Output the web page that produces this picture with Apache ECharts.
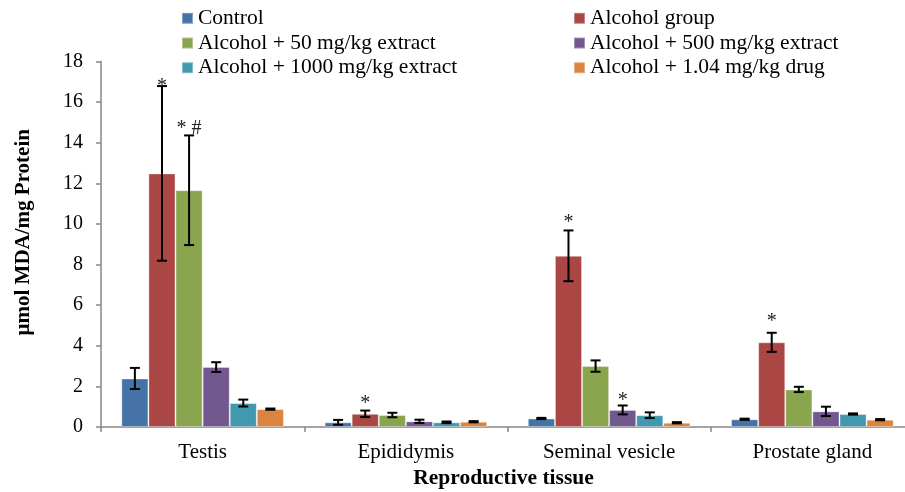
<!DOCTYPE html>
<html>
<head>
<meta charset="utf-8">
<script src="https://cdn.jsdelivr.net/npm/echarts@6/dist/echarts.min.js"></script>
<style>
html,body{margin:0;padding:0;background:#fff;}
#chart{width:905px;height:492px;}
</style>
</head>
<body>
<div id="chart"></div>
<script>
// ---- data ----
const categories = ['Testis', 'Epididymis', 'Seminal vesicle', 'Prostate gland'];
const seriesNames = ['Control', 'Alcohol group', 'Alcohol + 50 mg/kg extract', 'Alcohol + 500 mg/kg extract', 'Alcohol + 1000 mg/kg extract', 'Alcohol + 1.04 mg/kg drug'];
const control = [2.39, 0.23, 0.42, 0.38];
const alcohol = [12.49, 0.65, 8.43, 4.17];
const ext50 = [11.66, 0.59, 3.0, 1.85];
const ext500 = [2.95, 0.28, 0.84, 0.77];
const ext1000 = [1.18, 0.23, 0.58, 0.64];
const drug = [0.88, 0.26, 0.21, 0.36];
const controlErr = [0.52, 0.12, 0.03, 0.03];
const alcoholErr = [4.3, 0.16, 1.25, 0.47];
const ext50Err = [2.7, 0.11, 0.28, 0.13];
const ext500Err = [0.24, 0.08, 0.22, 0.23];
const ext1000Err = [0.17, 0.04, 0.14, 0.03];
const drugErr = [0.03, 0.03, 0.03, 0.03];
// significance marks: series index, category index, text, height of mark
const markSeries = [1, 2, 1, 1, 3, 1];
const markCats = [0, 0, 1, 2, 2, 3];
const markTexts = ['*', '* #', '*', '*', '*', '*'];
const markHeights = [16.9, 14.85, 1.29, 10.23, 1.43, 5.31];
const yTicks = { min: 0, max: 18, interval: 2 };

const colors = ['#4572A7', '#AA4643', '#89A54E', '#71588F', '#4198AF', '#DB843D'];
const values = [control, alcohol, ext50, ext500, ext1000, drug];
const errs = [controlErr, alcoholErr, ext50Err, ext500Err, ext1000Err, drugErr];
const FONT = 'Liberation Serif';
const NB = 6;
const CAT_GAP = 0.2;

function barX(api, c, s) {
  const band = api.size([1, 0])[0];
  const base = api.coord([c, 0]);
  const bw = band * (1 - CAT_GAP) / NB;
  return base[0] - band * (1 - CAT_GAP) / 2 + (s + 0.5) * bw;
}

const errData = [];
values.forEach((arr, s) => arr.forEach((v, c) => errData.push([c, s, v, errs[s][c]])));
const markData = markSeries.map((s, i) => [markCats[i], s, markHeights[i], i]);

const barSeries = values.map((arr, s) => ({
  name: seriesNames[s],
  type: 'bar',
  data: arr,
  barGap: '0%',
  barCategoryGap: '20%',
  itemStyle: { color: colors[s], borderColor: 'rgba(255,255,255,0.35)', borderWidth: 1 },
  emphasis: { disabled: true },
  animation: false
}));

const chart = echarts.init(document.getElementById('chart'));
chart.setOption({
  animation: false,
  textStyle: { fontFamily: FONT },
  grid: { left: 101, width: 813, top: 61.5, height: 365.5, containLabel: false, outerBoundsMode: 'none' },
  legend: [
    {
      orient: 'vertical', left: 181, top: 6, padding: 0, itemGap: 0,
      itemWidth: 11, itemHeight: 11, icon: 'rect',
      data: [seriesNames[0], seriesNames[2], seriesNames[4]],
      textStyle: { fontFamily: FONT, fontSize: 21.5, color: '#000', lineHeight: 24.7 },
      selectedMode: false
    },
    {
      orient: 'vertical', left: 573, top: 6, padding: 0, itemGap: 0,
      itemWidth: 11, itemHeight: 11, icon: 'rect',
      data: [seriesNames[1], seriesNames[3], seriesNames[5]],
      textStyle: { fontFamily: FONT, fontSize: 21.5, color: '#000', lineHeight: 24.7 },
      selectedMode: false
    }
  ],
  xAxis: {
    type: 'category',
    data: categories,
    name: 'Reproductive tissue',
    nameLocation: 'middle',
    nameGap: 33,
    nameTextStyle: { fontFamily: FONT, fontSize: 21.5, fontWeight: 'bold', color: '#000', padding: [0, 8, 0, 0] },
    axisLine: { lineStyle: { color: '#868686', width: 1.5 } },
    axisTick: { show: true, length: 5, lineStyle: { color: '#868686', width: 1.5 } },
    axisLabel: { fontFamily: FONT, fontSize: 21, color: '#000', margin: 15 }
  },
  yAxis: {
    type: 'value',
    min: yTicks.min, max: yTicks.max, interval: yTicks.interval,
    name: 'μmol MDA/mg Protein',
    nameLocation: 'middle',
    nameGap: 67,
    nameTextStyle: { fontFamily: FONT, fontSize: 21, fontWeight: 'bold', color: '#000', padding: [0, 0, 0, 24] },
    axisLine: { show: true, lineStyle: { color: '#868686', width: 1.5 } },
    axisTick: { show: true, length: 5, lineStyle: { color: '#868686', width: 1.5 } },
    splitLine: { show: false },
    axisLabel: { fontFamily: FONT, fontSize: 20, color: '#000', margin: 18 }
  },
  series: barSeries.concat([
    {
      name: 'errors',
      type: 'custom',
      z: 5,
      data: errData,
      encode: { x: 0, y: 2 },
      renderItem: function (params, api) {
        const c = api.value(0), s = api.value(1), v = api.value(2), e = api.value(3);
        const x = barX(api, c, s);
        const yt = api.coord([c, v + e])[1];
        const yb = api.coord([c, Math.max(v - e, 0)])[1];
        const hw = 5;
        const st = { stroke: '#000', lineWidth: 2 };
        return {
          type: 'group',
          children: [
            { type: 'line', shape: { x1: x, y1: yt, x2: x, y2: yb }, style: st },
            { type: 'line', shape: { x1: x - hw, y1: yt, x2: x + hw, y2: yt }, style: st },
            { type: 'line', shape: { x1: x - hw, y1: yb, x2: x + hw, y2: yb }, style: st }
          ]
        };
      }
    },
    {
      name: 'marks',
      type: 'custom',
      z: 6,
      data: markData,
      encode: { x: 0, y: 2 },
      renderItem: function (params, api) {
        const c = api.value(0), s = api.value(1), h = api.value(2), i = api.value(3);
        const x = barX(api, c, s);
        const y = api.coord([c, h])[1];
        return {
          type: 'text',
          style: {
            x: x, y: y + 3, text: markTexts[i],
            fill: '#222', font: '20px "Liberation Serif"',
            align: 'center', verticalAlign: 'middle'
          }
        };
      }
    }
  ])
});
</script>
</body>
</html>
